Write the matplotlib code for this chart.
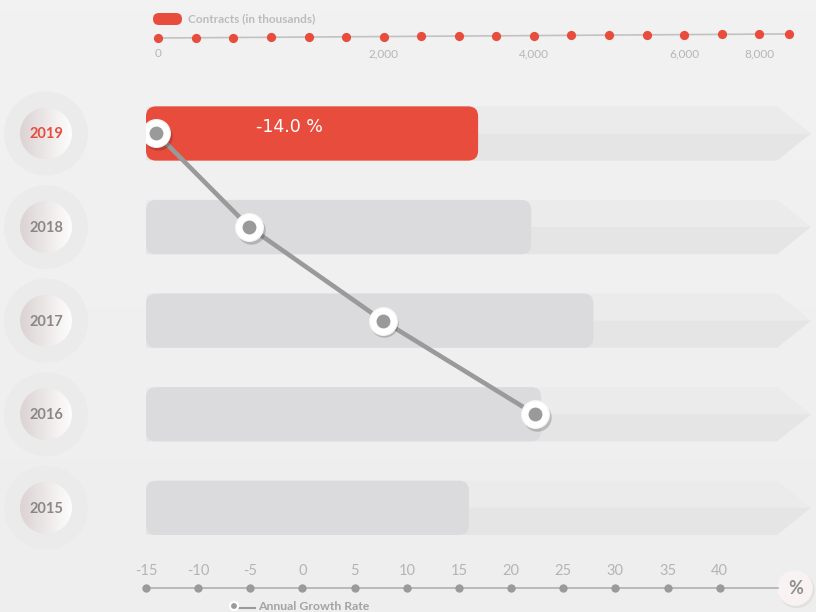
import matplotlib
matplotlib.use("Agg")
import matplotlib.pyplot as plt
import numpy as np
from matplotlib import transforms as mtransforms
from matplotlib.colors import LinearSegmentedColormap
from matplotlib.patches import Circle, FancyBboxPatch, Polygon

plt.rcParams["font.family"] = ["Lato", "DejaVu Sans"]

# rows, top to bottom
years = ["2019", "2018", "2017", "2016", "2015"]
contracts = [4320, 5010, 5820, 5140, 4200]  # in thousands
growth = [-14.0, -5.1, 7.7, 22.3]  # annual growth rate, %, 2019..2016

rate_ticks = [-15, -10, -5, 0, 5, 10, 15, 20, 25, 30, 35, 40]
ruler_marks = list(range(17)) + [16.8]
ruler_ticks = [0, 6, 10, 14, 16]
ruler_labels = ["0", "2,000", "4,000", "6,000", "8,000"]

RED = "#e84c3d"
BAR_GREY = "#dbdbdd"
DOT_GREY = "#9a9a9a"
W_PX, H_PX = 816, 612

fig = plt.figure(figsize=(W_PX / 100, H_PX / 100), dpi=100)


def frac(x0, y0, x1, y1):
    """pixel box (top-left origin) -> figure fraction rect"""
    return [x0 / W_PX, 1 - y1 / H_PX, (x1 - x0) / W_PX, (y1 - y0) / H_PX]


# full-figure canvas for background and ornaments, in pixel units
deco = fig.add_axes([0, 0, 1, 1], zorder=0)
deco.set_xlim(0, W_PX)
deco.set_ylim(H_PX, 0)
deco.axis("off")
bg = LinearSegmentedColormap.from_list("bg", ["#f2f2f2", "#eeeeee"])
deco.imshow(np.linspace(0, 1, 64).reshape(-1, 1), cmap=bg, aspect="auto",
            extent=(0, W_PX, H_PX, 0), zorder=0)

# bars (contracts) and line (growth) share the same box
rect = frac(146, 86.7, 811, 554.6)
ax_bar = fig.add_axes(rect, zorder=1)
ax_bar.set_xlim(0, 8650)
ax_bar.set_ylim(len(years) - 0.5, -0.5)
ax_bar.axis("off")
ax_bar.patch.set_visible(False)

ax_line = fig.add_axes(rect, zorder=2, sharey=ax_bar)
ax_line.set_xlim(-15, -15 + 665 / 10.43)
ax_line.axis("off")
ax_line.patch.set_visible(False)

rows = np.arange(len(years))
bar_h = 0.58

# arrow-shaped tracks behind the bars
track = mtransforms.blended_transform_factory(ax_bar.transAxes, ax_bar.transData)
body_end = (777 - 146) / 665
for y in rows:
    top, bot = y - bar_h / 2, y + bar_h / 2
    ax_bar.add_patch(Polygon([(0, top), (body_end, top), (1, y), (0, y)],
                             closed=True, transform=track, color="#ebebeb", lw=0, zorder=1))
    ax_bar.add_patch(Polygon([(0, y), (1, y), (body_end, bot), (0, bot)],
                             closed=True, transform=track, color="#e5e5e5", lw=0, zorder=1))

# rounded bars: keep corner radius round despite unequal x/y scales
bb = ax_bar.get_window_extent()
ppx = bb.width / np.diff(ax_bar.get_xlim())[0]
ppy = bb.height / abs(np.diff(ax_bar.get_ylim())[0])
radius_px = 10
for y, val in zip(rows, contracts):
    ax_bar.add_patch(FancyBboxPatch(
        (0, y - bar_h / 2), val, bar_h,
        boxstyle=f"round,pad=0,rounding_size={radius_px / ppx}",
        mutation_aspect=ppx / ppy,
        color=RED if y == 0 else BAR_GREY, lw=0, zorder=2))

ax_bar.annotate(f"{growth[0]:.1f} %", xy=(0, rows[0]), xytext=(143, 6),
                textcoords="offset pixels", ha="center", va="center",
                color="white", fontsize=12.5, family="DejaVu Sans")

# growth line with ring markers
grow_rows = rows[:len(growth)]
ax_line.plot(growth, grow_rows, color=DOT_GREY, lw=3.3, zorder=1)
shadow = mtransforms.offset_copy(ax_line.transData, fig=fig, x=1.2, y=-1.8, units="points")
ax_line.plot(growth, grow_rows, "o", ms=20.5, color="#000000", alpha=0.18,
             mew=0, transform=shadow, zorder=2)
ax_line.plot(growth, grow_rows, "o", ms=20, mfc="white", mec="#f4f4f4", mew=0.8, zorder=3)
ax_line.plot(growth, grow_rows, "o", ms=10, color=DOT_GREY, mew=0, zorder=4)

# bottom scale for the growth rate
ax_rate = fig.add_axes(frac(146, 555, 811, 605), zorder=2, sharex=ax_line)
ax_rate.set_ylim(605, 555)
ax_rate.axis("off")
ax_rate.patch.set_visible(False)
ax_rate.axhline(588, xmin=0, xmax=(778 - 146) / 665, color="#b0b0b0", lw=1.2, zorder=1)
ax_rate.scatter(rate_ticks, [588] * len(rate_ticks), s=36, color=DOT_GREY, lw=0,
                zorder=2, clip_on=False)
for t in rate_ticks:
    ax_rate.text(t, 571, str(t), ha="center", va="center", fontsize=10.5,
                 color="#b4b4b4")

# top scale for contracts, drawn with a slight upward tilt
ax_top = fig.add_axes(frac(146, 10, 811, 60), zorder=2)
ax_top.set_xlim((146 - 158.3) / 37.56, (811 - 158.3) / 37.56)
ax_top.set_ylim(60, 10)
ax_top.axis("off")
ax_top.patch.set_visible(False)
x0, y0 = ax_top.transData.transform((ruler_marks[0], 38))
tilt = (mtransforms.Affine2D().translate(-x0, -y0).skew_deg(0, 0.37).translate(x0, y0))
ruler_tr = ax_top.transData + tilt
ax_top.plot([ruler_marks[0], ruler_marks[-1]], [38, 38], color="#c2c2c2", lw=1.2,
            zorder=1, transform=ruler_tr)
ax_top.scatter(ruler_marks, [38] * len(ruler_marks), s=44, color=RED, lw=0, zorder=2,
               transform=ruler_tr, clip_on=False)
for t, lab in zip(ruler_ticks, ruler_labels):
    ax_top.text(t, 53.5, lab, ha="center", va="center", fontsize=8.5, color="#b6b6b6")

# legend entries
deco.add_patch(FancyBboxPatch((153, 13), 29, 12, boxstyle="round,pad=0,rounding_size=6",
                              color=RED, lw=0, zorder=3))
deco.text(188, 19, "Contracts (in thousands)", ha="left", va="center", fontsize=8.5,
          fontweight="bold", color="#bcbcbc", zorder=3)
deco.plot([238, 255], [607.5, 607.5], color=DOT_GREY, lw=1.5, zorder=3)
deco.add_patch(Circle((234, 606), 4.5, color="white", zorder=4))
deco.add_patch(Circle((234, 606), 2.2, color=DOT_GREY, zorder=5))
deco.text(258, 606.5, "Annual Growth Rate", ha="left", va="center", fontsize=8.8,
          fontweight="bold", color="#a3a3a3", zorder=3)

# unit badge at the end of the growth scale
deco.add_patch(Circle((796.5, 590), 17.5, color="#dcdcdc", alpha=0.6, zorder=3))
deco.add_patch(Circle((795, 588), 17, color="#f8f2f2", zorder=4))
deco.text(796, 589, "%", ha="center", va="center", fontsize=13, fontweight="bold",
          color="#8f8f8f", zorder=5)

# year badges on the left, aligned to the bar rows
inner = LinearSegmentedColormap.from_list("inner", ["#dcd3d3", "#fdfdfd"])
to_px = deco.transData.inverted()
for y, year in zip(rows, years):
    cy = to_px.transform(ax_bar.transData.transform((0, y)))[1]
    cx = 46
    deco.add_patch(Circle((cx, cy), 42, color="#ebebeb", lw=0, zorder=2))
    clip = Circle((cx, cy), 26, transform=deco.transData)
    img = deco.imshow(np.linspace(0, 1, 64).reshape(1, -1), cmap=inner, aspect="auto",
                      extent=(cx - 26, cx + 26, cy + 26, cy - 26), zorder=3)
    img.set_clip_path(clip)
    deco.text(cx, cy + 1, year, ha="center", va="center", fontsize=10.5, fontweight="bold",
              color=RED if y == 0 else "#8c8787", zorder=4)

deco.set_xlim(0, W_PX)
deco.set_ylim(H_PX, 0)

fig.savefig("out.png", dpi=100)
